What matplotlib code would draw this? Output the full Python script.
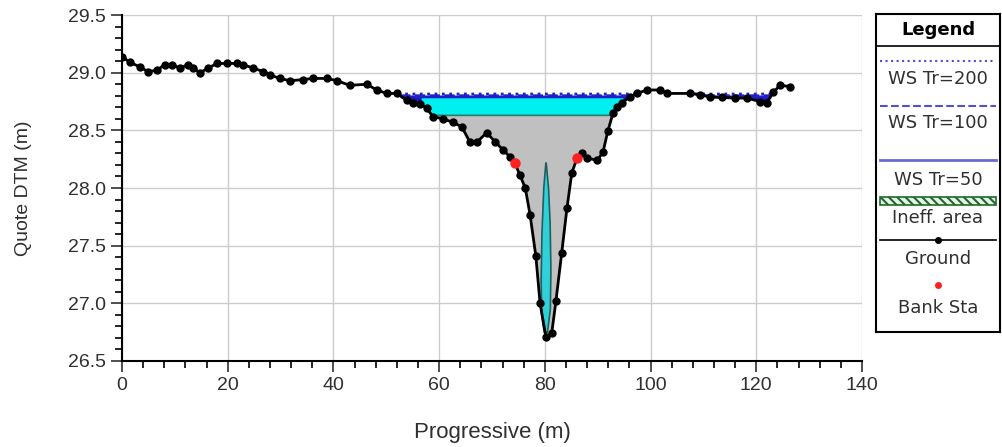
import numpy as np
import matplotlib
matplotlib.use("Agg")
import matplotlib.pyplot as plt
from matplotlib.ticker import MultipleLocator, FormatStrFormatter
from matplotlib.patches import Rectangle, Polygon

plt.rcParams['font.family'] = ['Liberation Sans', 'DejaVu Sans']
plt.rcParams['hatch.color'] = '#1e6a2a'
plt.rcParams['hatch.linewidth'] = 1.5

# ground profile (station, elevation)
ground_x = [0, 1.5, 3.4, 4.9, 6.6, 8.1, 9.5, 11.0, 12.5, 13.4, 14.8, 16.3, 18.0, 19.9,
            21.8, 22.9, 24.8, 26.7, 28.0, 29.9, 31.8, 34.2, 36.1, 38.8, 40.7, 43.1,
            46.3, 48.2, 50.1, 52.0, 53.9, 55.1, 56.4, 57.7, 58.8, 60.7, 62.6, 64.3,
            65.8, 67.2, 69.0, 70.6, 72.1, 73.4, 74.3, 75.3, 76.3, 77.2, 78.3, 79.1,
            80.2, 81.3, 82.1, 83.2, 84.2, 85.1, 86.1, 87.0, 88.0, 89.9, 91.0, 91.9,
            92.9, 93.6, 94.6, 96.1, 97.4, 99.3, 101.8, 103.1, 107.5, 109.3, 111.2,
            113.5, 116.0, 118.2, 120.7, 122.0, 123.2, 124.5, 126.4]
ground_y = [29.14, 29.09, 29.05, 29.01, 29.02, 29.07, 29.07, 29.04, 29.07, 29.04, 29.00,
            29.04, 29.08, 29.08, 29.08, 29.07, 29.04, 29.01, 28.98, 28.95, 28.93, 28.94,
            28.95, 28.95, 28.93, 28.89, 28.90, 28.85, 28.82, 28.82, 28.76, 28.74, 28.73,
            28.69, 28.62, 28.60, 28.57, 28.53, 28.40, 28.40, 28.48, 28.40, 28.33, 28.27,
            28.22, 28.11, 28.00, 27.77, 27.41, 27.00, 26.71, 26.74, 27.02, 27.44, 27.83,
            28.13, 28.26, 28.30, 28.26, 28.24, 28.31, 28.49, 28.65, 28.70, 28.74, 28.79,
            28.82, 28.85, 28.85, 28.82, 28.82, 28.81, 28.79, 28.785, 28.78, 28.78, 28.75,
            28.74, 28.83, 28.89, 28.88]

bank_x = [74.3, 86.1]
bank_y = [28.22, 28.26]

ws_200 = 28.815
ws_100 = 28.80
ws_50 = 28.79
gray_level = 28.63
cyan_range = (56.6, 94.8)

# narrow lens in the thalweg
lens_x = [80.2, 79.8, 79.45, 79.3, 79.4, 79.9, 80.5, 81.05, 81.15, 81.0, 80.7, 80.3]
lens_y = [28.22, 28.0, 27.6, 27.2, 26.9, 26.75, 26.75, 26.95, 27.3, 27.7, 28.0, 28.2]

fig = plt.figure(figsize=(10.03, 4.47), dpi=100)
ax = fig.add_axes([0.1216, 0.1924, 0.7378, 0.774])

gx = np.array(ground_x)
gy = np.array(ground_y)
xf = np.linspace(gx[0], gx[-1], 3000)
gf = np.interp(xf, gx, gy)

# water in overbanks
ax.fill_between(xf, gf, ws_50, where=gf < ws_50, color='#1818c0', lw=0, zorder=2)

# main channel: cyan water band and gray area below
in_ch = (xf > cyan_range[0]) & (xf < cyan_range[1])
ax.fill_between(xf, np.maximum(gf, gray_level), ws_50 - 0.005,
                where=in_ch & (gf < ws_50 - 0.005), color='#00f0f0', lw=0, zorder=3)
ax.fill_between(xf, gf, gray_level, where=in_ch & (gf < gray_level),
                color='#c0c0c0', lw=0, zorder=3)
seg = in_ch & (gf < gray_level)
ax.plot(np.where(seg, xf, np.nan), np.full_like(xf, gray_level), color='#2a7a70',
        lw=1.2, zorder=4)

ax.add_patch(Polygon(np.column_stack([lens_x, lens_y]), closed=True,
                     facecolor='#30d0d8', edgecolor='#1f5f60', lw=1.2, zorder=5))

# water surfaces
for ws, ls in [(ws_50, '-'), (ws_100, '--'), (ws_200, ':')]:
    ax.plot(xf, np.where(gf < ws, ws, np.nan), color='#2020c8', lw=2, ls=ls, zorder=6)

ax.plot(gx, gy, color='black', lw=2, marker='o', ms=5, zorder=7)
ax.plot(bank_x, bank_y, ls='none', marker='o', ms=6.5, color='#ff2020', zorder=8)

ax.set_xlim(0, 140)
ax.set_ylim(26.5, 29.5)
ax.xaxis.set_major_locator(MultipleLocator(20))
ax.xaxis.set_minor_locator(MultipleLocator(4))
ax.yaxis.set_major_locator(MultipleLocator(0.5))
ax.yaxis.set_minor_locator(MultipleLocator(0.1))
ax.yaxis.set_major_formatter(FormatStrFormatter('%.1f'))
ax.grid(True, which='major', color='#cccccc', lw=1)
ax.set_axisbelow(True)
for s in ['top', 'right']:
    ax.spines[s].set_visible(False)
ax.spines['left'].set_linewidth(1.5)
ax.spines['bottom'].set_linewidth(1.5)
ax.tick_params(which='major', length=8, width=1.2, labelsize=14, colors='#303030')
ax.tick_params(which='minor', length=5, width=1.2)
ax.set_xlabel('Progressive (m)', fontsize=16, color='#303030', labelpad=20)
ax.set_ylabel('Quote DTM (m)', fontsize=14, color='#303030', labelpad=26)

# legend panel
lg = fig.add_axes([876 / 1003, 1 - 332 / 447, 124 / 1003, 318 / 447])
lg.set_xlim(0, 1)
lg.set_ylim(332, 14)
lg.set_xticks([])
lg.set_yticks([])
for s in lg.spines.values():
    s.set_linewidth(1.5)
lg.axhline(46, color='black', lw=1.2)
lg.text(0.5, 30, 'Legend', ha='center', va='center', fontsize=13, fontweight='bold',
        family=['DejaVu Sans'])
lab = dict(ha='center', va='center', fontsize=13, color='#303030', family=['DejaVu Sans'])
lg.plot([0.03, 0.97], [61, 61], color='#5050d0', lw=1.5, ls=':')
lg.text(0.5, 79, 'WS Tr=200', **lab)
lg.plot([0.03, 0.97], [106, 106], color='#5050d0', lw=1.5, ls='--')
lg.text(0.5, 123, 'WS Tr=100', **lab)
lg.plot([0.03, 0.97], [160, 160], color='#6a6ad8', lw=2)
lg.text(0.5, 180, 'WS Tr=50', **lab)
lg.add_patch(Rectangle((0.03, 197), 0.94, 8, facecolor='#e8f4e8', edgecolor='#1e6a2a',
                       hatch='\\\\\\\\', lw=1.2))
lg.text(0.5, 218, 'Ineff. area', **lab)
lg.plot([0.03, 0.97], [240, 240], color='black', lw=1.2)
lg.plot([0.5], [240], marker='o', ms=4, color='black')
lg.text(0.5, 259, 'Ground', **lab)
lg.plot([0.5], [285], marker='o', ms=4, color='#ff2020')
lg.text(0.5, 308, 'Bank Sta', **lab)

fig.savefig('out.png', dpi=100)
